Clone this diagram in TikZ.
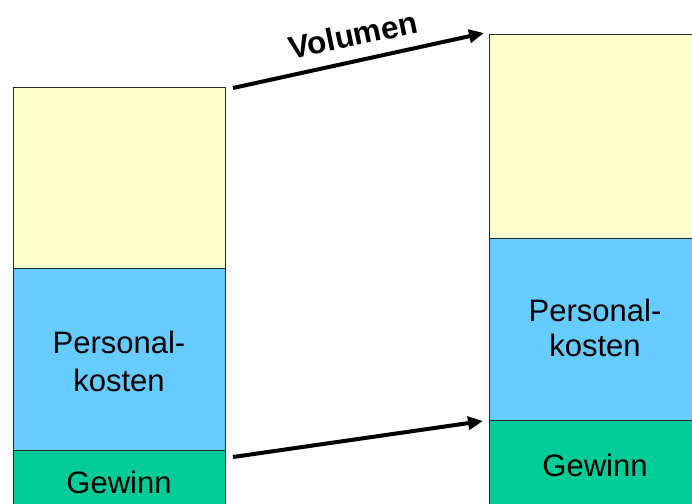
\documentclass[tikz,border=0pt]{standalone}
\usepackage{fontspec}
\setmainfont{Liberation Sans}
\usetikzlibrary{arrows.meta}
\definecolor{cyel}{HTML}{FFFFCC}
\definecolor{cblu}{HTML}{66CCFF}
\definecolor{cgrn}{HTML}{00CC99}
\begin{document}
\begin{tikzpicture}[x=1pt,y=-1pt,
  block/.style={draw=black!85,line width=0.8pt,inner sep=0pt,outer sep=0pt},
  lbl/.style={font=\fontsize{31}{38}\selectfont,align=center,inner sep=0pt},
  bigarrow/.style={line width=4pt,-{Triangle[length=15pt,width=13pt]}}]
\useasboundingbox (0,0) rectangle (692,503);
% left bar
\filldraw[block,fill=cyel] (13,87) rectangle (225,268);
\filldraw[block,fill=cblu] (13,268) rectangle (225,450);
\filldraw[block,fill=cgrn] (13,450) rectangle (225,520);
% right bar
\filldraw[block,fill=cyel] (489,34) rectangle (705,238);
\filldraw[block,fill=cblu] (489,238) rectangle (705,420);
\filldraw[block,fill=cgrn] (489,420) rectangle (705,520);
% labels
\node[lbl] (lpk) at (119,361) {Personal-\\kosten};
\node[lbl] (lgw) at (119,482.5) {Gewinn};
\node[lbl,font=\fontsize{31}{35}\selectfont] (rpk) at (595,328) {Personal-\\kosten};
\node[lbl] (rgw) at (595,465.5) {Gewinn};
% arrows
\coordinate (a1) at (233,88);
\coordinate (a2) at (484,33);
\coordinate (b1) at (233,457);
\coordinate (b2) at (483,421);
\draw[bigarrow] (a1) -- (a2);
\draw[bigarrow] (b1) -- (b2);
\node[font=\fontsize{31.5}{36}\selectfont\bfseries,rotate=11.8,inner sep=0pt] (vol) at (353,35) {Volumen};
\end{tikzpicture}
\end{document}
